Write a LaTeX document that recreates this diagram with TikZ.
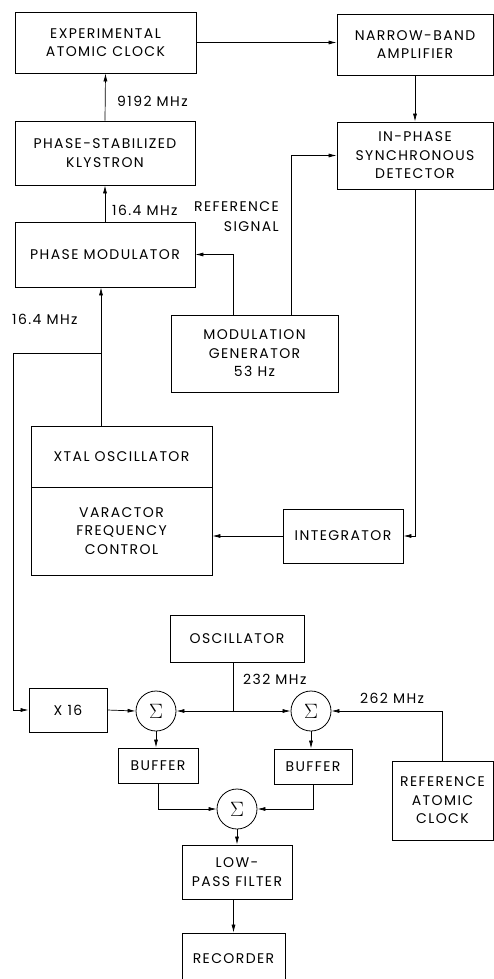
\documentclass[tikz,border=0pt]{standalone}
\usepackage{fontspec}
\setsansfont{Poppins}[LetterSpace=10]
\usetikzlibrary{arrows.meta}

\begin{document}
\begin{tikzpicture}[
  x=1pt, y=-1pt,
  font=\sffamily\fontsize{14}{18.5}\selectfont,
  box/.style={draw, line width=0.8pt, align=center, inner sep=0pt},
  sumnode/.style={draw, circle, line width=0.8pt, minimum size=40pt, inner sep=0pt,
    font=\fontsize{20}{20}\selectfont},
  lbl/.style={font=\sffamily\fontsize{14}{20}\selectfont, inner sep=0pt},
  arrow/.style={-{Latex[length=8pt,width=4pt]}, line width=0.7pt},
  wire/.style={line width=0.7pt}
]
\useasboundingbox (0,0) rectangle (494,979);

\node[box, minimum width=181pt, minimum height=61pt] (exp) at (105.5,42.5)
  {EXPERIMENTAL\\ATOMIC CLOCK};
\node[box, minimum width=156pt, minimum height=61pt] (nba) at (415,44.5)
  {NARROW-BAND\\AMPLIFIER};
\node[box, minimum width=156pt, minimum height=67pt] (ipd) at (415,155.5)
  {IN-PHASE\\SYNCHRONOUS\\DETECTOR};
\node[box, minimum width=180pt, minimum height=64pt] (kly) at (105,153)
  {PHASE-STABILIZED\\KLYSTRON};
\node[box, minimum width=180pt, minimum height=65pt] (pm) at (105,254.5)
  {PHASE MODULATOR};
\node[box, minimum width=167pt, minimum height=77pt] (mg) at (254.5,353.5)
  {MODULATION\\GENERATOR\\53 Hz};
\node[box, minimum width=181pt, minimum height=61pt] (xtal) at (121.5,456.5)
  {XTAL OSCILLATOR};
\node[box, minimum width=181pt, minimum height=88pt] (var) at (121.5,531)
  {VARACTOR\\FREQUENCY\\CONTROL};
\node[box, minimum width=120pt, minimum height=54pt] (integ) at (343,536)
  {INTEGRATOR};
\node[box, minimum width=134pt, minimum height=47pt] (osc) at (237,638.5)
  {OSCILLATOR};
\node[box, minimum width=78pt, minimum height=44pt] (xsix) at (68,710)
  {X 16};
\node[sumnode] (sa) at (156,711) {$\Sigma$};
\node[sumnode] (sb) at (311,711) {$\Sigma$};
\node[box, minimum width=101pt, minimum height=79pt] (refc) at (442.5,800.5)
  {REFERENCE\\ATOMIC\\CLOCK};
\node[box, minimum width=80pt, minimum height=35pt] (bufa) at (158,765.5)
  {BUFFER};
\node[box, minimum width=78pt, minimum height=35pt] (bufb) at (313,766.5)
  {BUFFER};
\node[sumnode] (sc) at (237,809) {$\Sigma$};
\node[box, minimum width=110pt, minimum height=54pt] (lpf) at (237,872)
  {LOW-\\PASS FILTER};
\node[box, minimum width=103pt, minimum height=52pt] (rec) at (233.5,959)
  {RECORDER};

\node[lbl, anchor=west] (fklys) at (117,101) {9192 MHz};
\node[lbl, anchor=west] (fmod) at (112,210) {16.4 MHz};
\node[lbl, anchor=east, align=right] (refsig) at (279,217) {REFERENCE\\SIGNAL};
\node[lbl, anchor=west] (fxtal) at (12,319) {16.4 MHz};
\node[lbl, anchor=west] (fosc) at (243,679) {232 MHz};
\node[lbl, anchor=west] (fref) at (360,698) {262 MHz};

\coordinate (split) at (101,353);
\coordinate (lft) at (13,353);
\coordinate (jn) at (233,711);

\draw[arrow] (exp.east) -- (exp.east -| nba.west);
\draw[arrow] (nba.south) -- (ipd.north);
\draw[arrow] (kly.north) -- (exp.south);
\draw[arrow] (pm.north) -- (kly.south);
\draw[arrow] (split |- xtal.north) -- (split |- pm.south);
\draw[wire] (split) -- (lft);
\draw[arrow] (lft) |- (xsix.west);
\draw[arrow] ([xshift=-21.5pt]mg.north) |- (pm.east);
\draw[arrow] ([xshift=36.5pt]mg.north) |- (ipd.west);
\draw[arrow] (ipd.south) |- (integ.east);
\draw[arrow] (integ.west) -- (integ.west -| var.east);
\draw[wire] (osc.south -| jn) -- (jn);
\draw[arrow] (jn) -- (sa.east);
\draw[arrow] (jn) -- (sb.west);
\draw[arrow] (xsix.east) -- (sa.west);
\draw[arrow] (refc.north) |- (sb.east);
\draw[arrow] (sa.south) -- (sa.south |- bufa.north);
\draw[arrow] (sb.south) -- (sb.south |- bufb.north);
\draw[arrow] (bufa.south) |- (sc.west);
\draw[arrow] (bufb.south) |- (sc.east);
\draw[arrow] (sc.south) -- (lpf.north);
\draw[arrow] (rec.north |- lpf.south) -- (rec.north);

\end{tikzpicture}
\end{document}
